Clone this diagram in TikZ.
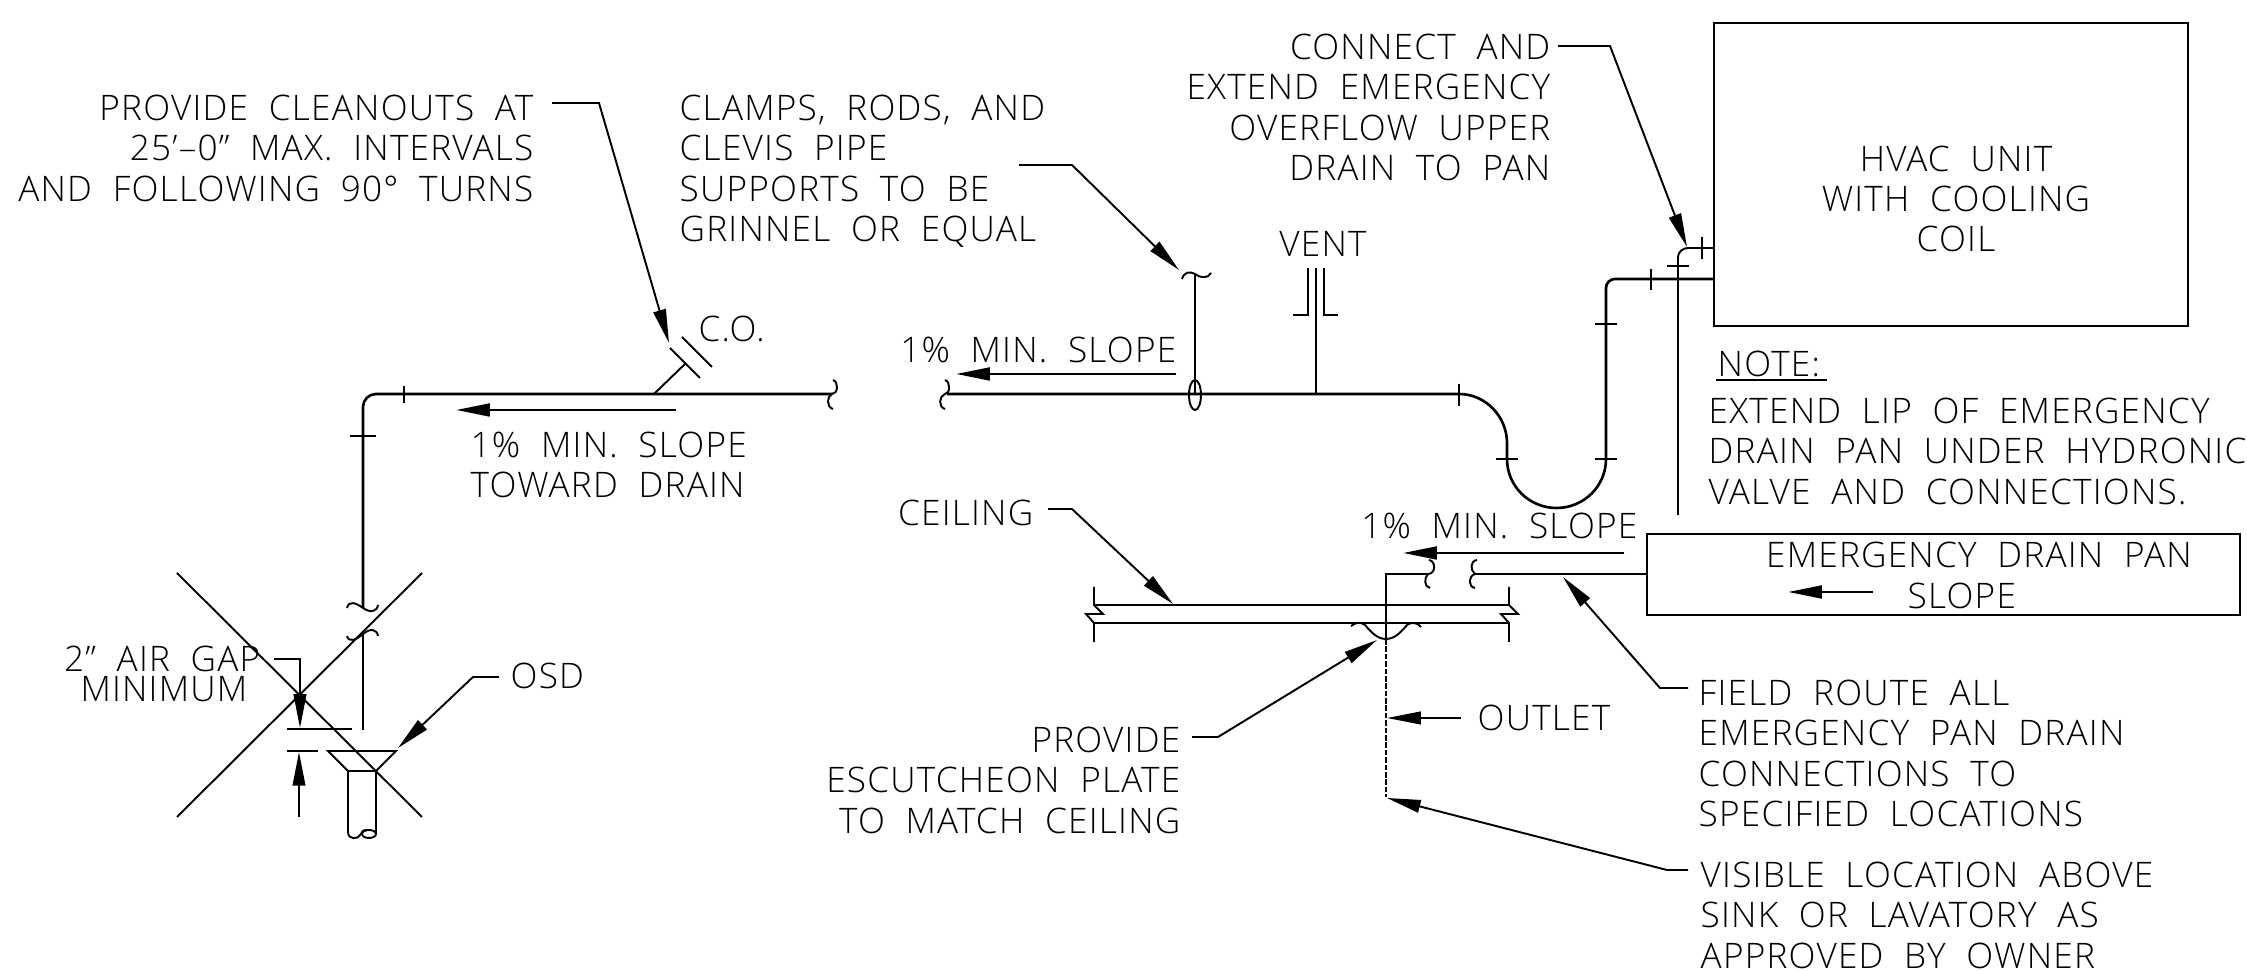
\documentclass[tikz,border=0pt]{standalone}
\usepackage{fontspec}
\setmainfont{Open Sans}[UprightFont=* Light,WordSpace=2.0,LetterSpace=3.5]
\usetikzlibrary{arrows.meta,positioning}
\tikzset{
  pipe/.style={line width=0.75pt},
  thinline/.style={line width=0.55pt},
  leader/.style={thinline, ->},
  slope/.style={line width=0.8pt, ->},
  note/.style={inner sep=0pt, font=\fontsize{10pt}{11.5pt}\selectfont},
  >={Triangle[length=9.6pt,width=3.6pt]}
}
\begin{document}
\begin{tikzpicture}[x=0.01cm,y=-0.01cm]
\path[fill=white,use as bounding box] (0,0) rectangle (2247,971);
%============ left notes
\node[note, anchor=north east, align=right] (cleanout) at (534,94) {PROVIDE CLEANOUTS AT\\25'--0" MAX. INTERVALS\\AND FOLLOWING 90° TURNS};
\node[note, anchor=north west, align=left] (clamps) at (679,94) {CLAMPS, RODS, AND\\CLEVIS PIPE\\SUPPORTS TO BE\\GRINNEL OR EQUAL};
\node[note, anchor=west] (co) at (698,329) {C.O.};
\node[note, anchor=north west, align=left] (towarddrain) at (470,431) {1\% MIN. SLOPE\\TOWARD DRAIN};
\node[note, anchor=east] (airgap) at (261,659) {2" AIR GAP};
\node[note, anchor=east] (minimum) at (248,689) {MINIMUM};
\node[note, anchor=west] (osd) at (510,676) {OSD};
%============ middle notes
\node[note] (vent) at (1323,244) {VENT};
\node[note, anchor=east] (slopetop) at (1177,350) {1\% MIN. SLOPE};
\node[note, anchor=east] (ceiling) at (1034,513) {CEILING};
\node[note, anchor=north east, align=right] (escutcheon) at (1181,726) {PROVIDE\\ESCUTCHEON PLATE\\TO MATCH CEILING};
\node[note, anchor=west] (outlet) at (1477,718) {OUTLET};
\node[note, anchor=east] (slopepan) at (1638,526) {1\% MIN. SLOPE};
%============ right notes
\node[note, anchor=north east, align=right] (overflow) at (1551,33) {CONNECT AND\\EXTEND EMERGENCY\\OVERFLOW UPPER\\DRAIN TO PAN};
\node[note, align=center] (hvac) at (1956,199) {HVAC UNIT\\WITH COOLING\\COIL};
\node[note, anchor=west] (notehead) at (1717,364) {NOTE:};
\node[note, anchor=north west, align=left] (notetext) at (1708,397) {EXTEND LIP OF EMERGENCY\\DRAIN PAN UNDER HYDRONIC\\VALVE AND CONNECTIONS.};
\node[note] (pantext) at (1979,555) {EMERGENCY DRAIN PAN};
\node[note, anchor=west] (panslope) at (1907,596) {SLOPE};
\node[note, anchor=north west, align=left] (fieldroute) at (1698,679) {FIELD ROUTE ALL\\EMERGENCY PAN DRAIN\\CONNECTIONS TO\\SPECIFIED LOCATIONS};
\node[note, anchor=north west, align=left] (visible) at (1700,861) {VISIBLE LOCATION ABOVE\\SINK OR LAVATORY AS\\APPROVED BY OWNER};
%============ boxes
\draw[thinline] (1714,23) rectangle (2188,326);
\draw[thinline] (1647,534) rectangle (2240,615);
\draw[thinline] (1716,380) -- (1827,380);
%============ left pipe
\draw[pipe, rounded corners=3.7pt] (363,608) -- (363,394) -- (832,394);
\draw[pipe] (363,633) -- (363,730);
\draw[thinline] (833,380) .. controls (839,382) and (838,394) .. (832,394) .. controls (827,396) and (826,407) .. (833,409);
\draw[thinline] (347,608) .. controls (349,600) and (356,603) .. (363,608) .. controls (370,613) and (377,612) .. (378,605);
\draw[thinline] (347,636) .. controls (349,643) and (356,640) .. (363,634) .. controls (370,628) and (377,629) .. (378,636);
\draw[thinline] (404,386) -- (404,403);
\draw[thinline] (350,436) -- (376,436);
%============ cleanout
\draw[thinline] (654,394) -- (685,364);
\draw[thinline] (670,348) -- (700,378);
\draw[thinline] (682,337) -- (712,367);
%============ air gap
\draw[thinline] (177,573) -- (422,817);
\draw[thinline] (177,817) -- (422,573);
\draw[thinline] (287,729) -- (352,729);
\draw[thinline] (287,751) -- (318,751);
\draw[thinline] (328,751) -- (396,751) -- (376,771) -- (348,771) -- cycle;
\draw[thinline] (348,771) -- (348,832) .. controls (348,840) and (358,840) .. (361,834) .. controls (363,830) and (364,830) .. (367,830);
\draw[thinline] (376,771) -- (376,834);
\draw[thinline] (369,834) ellipse (7 and 4);
%============ long pipe with hanger and vent
\draw[pipe] (947,394) -- (1459,394) .. controls (1485.5,394) and (1507,416.5) .. (1507,443) -- (1507,459) .. controls (1507,486) and (1529,508) .. (1556.5,508) .. controls (1584,508) and (1606,486) .. (1606,459) -- (1606,288) .. controls (1606,283) and (1610,279) .. (1615,279) -- (1714,279);
\draw[thinline] (945,380) .. controls (951,382) and (950,394) .. (945,394) .. controls (939,396) and (938,407) .. (945,409);
\draw[thinline] (1195,273) -- (1195,394);
\draw[thinline] (1195,395) ellipse (6 and 15);
\draw[thinline] (1182,279) .. controls (1184,272) and (1190,271) .. (1195,274) .. controls (1200,278) and (1208,279) .. (1211,273);
\draw[thinline] (1316,268) -- (1316,394);
\draw[thinline] (1308,268) -- (1308,315) -- (1293,315);
\draw[thinline] (1324,268) -- (1324,315) -- (1338,315);
\draw[thinline] (1459,384) -- (1459,406);
\draw[thinline] (1496,459) -- (1518,459);
\draw[thinline] (1595,459) -- (1617,459);
\draw[thinline] (1595,324) -- (1617,324);
\draw[thinline] (1651,269) -- (1651,290);
%============ upper drain
\draw[thinline] (1678,515) -- (1678,257) .. controls (1678,252) and (1683,248) .. (1688,248) -- (1714,248);
\draw[thinline] (1667,266) -- (1689,266);
\draw[thinline] (1702,237) -- (1702,259);
%============ ceiling
\draw[thinline] (1094,587) -- (1094,605) -- (1103,614) -- (1086,614) -- (1094,623) -- (1094,642);
\draw[thinline] (1509,587) -- (1509,605) -- (1518,614) -- (1501,614) -- (1509,623) -- (1509,642);
\draw[thinline] (1094,605) -- (1509,605);
\draw[thinline] (1094,623) -- (1509,623);
%============ pan drain
\draw[pipe] (1427,574) -- (1386,574) -- (1386,639);
\draw[thinline, dash pattern=on 1.6pt off 0.5pt] (1386,639) -- (1386,797);
\draw[pipe] (1475,574) -- (1647,574);
\draw[thinline] (1429,560) .. controls (1436,561) and (1436,574) .. (1428,574) .. controls (1424,578) and (1424,587) .. (1430,588);
\draw[thinline] (1477,560) .. controls (1470,561) and (1470,570) .. (1475,574) .. controls (1468,576) and (1468,587) .. (1475,588);
\draw[thinline] (1351,626) .. controls (1356,622) and (1361,622) .. (1365,625) .. controls (1371,632) and (1377,639) .. (1386,639) .. controls (1395,639) and (1401,632) .. (1407,625) .. controls (1411,622) and (1417,622) .. (1421,627);
%============ arrows
\coordinate (cleanoutstart) at (552,103);
\coordinate (cleanoutknee) at (599,103);
\coordinate (cleanouttip) at (669,343);
\draw[leader] (cleanoutstart) -- (cleanoutknee) -- (cleanouttip);
\coordinate (clampsstart) at (1019,165);
\coordinate (clampsknee) at (1072,165);
\coordinate (clampstip) at (1179,270);
\draw[leader] (clampsstart) -- (clampsknee) -- (clampstip);
\coordinate (overflowstart) at (1558,46);
\coordinate (overflowknee) at (1610,46);
\coordinate (overflowtip) at (1687,247);
\draw[leader] (overflowstart) -- (overflowknee) -- (overflowtip);
\coordinate (osdstart) at (499,677);
\coordinate (osdknee) at (473,677);
\coordinate (osdtip) at (398,748);
\draw[leader] (osdstart) -- (osdknee) -- (osdtip);
\coordinate (gapstart) at (274,659);
\coordinate (gapknee) at (300,659);
\coordinate (gaptip) at (300,728);
\draw[leader] (gapstart) -- (gapknee) -- (gaptip);
\coordinate (gaplow) at (299,817);
\coordinate (gaplowtip) at (299,752);
\draw[leader] (gaplow) -- (gaplowtip);
\coordinate (ceilingstart) at (1048,509);
\coordinate (ceilingknee) at (1072,509);
\coordinate (ceilingtip) at (1173,604);
\draw[leader] (ceilingstart) -- (ceilingknee) -- (ceilingtip);
\coordinate (platestart) at (1192,737);
\coordinate (plateknee) at (1218,737);
\coordinate (platetip) at (1377,640);
\draw[leader] (platestart) -- (plateknee) -- (platetip);
\coordinate (outletstart) at (1461,718);
\coordinate (outlettip) at (1387,718);
\draw[leader] (outletstart) -- (outlettip);
\coordinate (fieldstart) at (1688,688);
\coordinate (fieldknee) at (1660,688);
\coordinate (fieldtip) at (1563,577);
\draw[leader] (fieldstart) -- (fieldknee) -- (fieldtip);
\coordinate (visiblestart) at (1688,870);
\coordinate (visibleknee) at (1667,870);
\coordinate (visibletip) at (1387,798);
\draw[leader] (visiblestart) -- (visibleknee) -- (visibletip);
%============ slope arrows
\coordinate (slopeastart) at (676,410);
\coordinate (slopeatip) at (456,410);
\draw[slope] (slopeastart) -- (slopeatip);
\coordinate (slopebstart) at (1176,374);
\coordinate (slopebtip) at (956,374);
\draw[slope] (slopebstart) -- (slopebtip);
\coordinate (slopecstart) at (1624,553);
\coordinate (slopectip) at (1403,553);
\draw[slope] (slopecstart) -- (slopectip);
\coordinate (slopedstart) at (1873,592);
\coordinate (slopedtip) at (1788,592);
\draw[slope] (slopedstart) -- (slopedtip);
\end{tikzpicture}
\end{document}
